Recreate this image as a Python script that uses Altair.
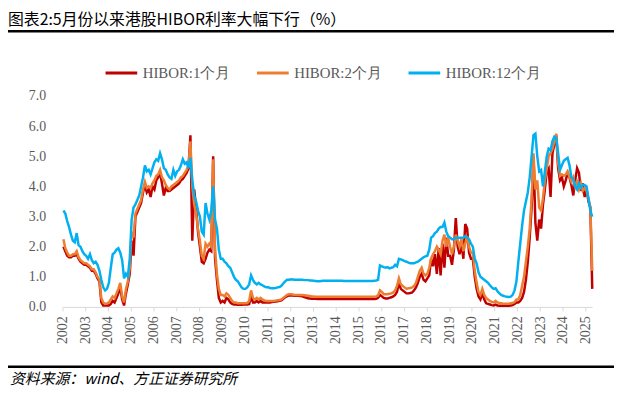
import altair as alt
import pandas as pd

TITLE = "图表2:5月份以来港股HIBOR利率大幅下行（%）"
SOURCE = "资料来源：wind、方正证券研究所"
series_names = ["HIBOR:1个月", "HIBOR:2个月", "HIBOR:12个月"]
series_colors = ["#C00000", "#ED7D31", "#00B0F0"]
start_year = 2002
year_ticks = list(range(2002, 2026))
y_ticks = [0, 1, 2, 3, 4, 5, 6, 7]

# monthly values, Jan 2002 .. Apr 2025
hibor_1m = [
    2.0, 1.85, 1.7, 1.65, 1.65, 1.7, 1.7, 1.75, 1.6, 1.5, 1.45, 1.4,
    1.4, 1.35, 1.3, 1.2, 1.2, 1.1, 0.95, 0.85, 0.15, 0.05, 0.05, 0.05,
    0.05, 0.1, 0.2, 0.15, 0.3, 0.45, 0.65, 0.25, 0.05, 0.45, 0.75, 1.1,
    2.2, 1.7, 3.0, 3.15, 3.3, 3.45, 3.8, 4.05, 3.8, 3.9, 3.65, 4.0,
    3.9, 4.2, 4.3, 4.45, 4.1, 3.7, 3.95, 3.85, 3.85, 3.9, 3.95, 4.0,
    4.05, 4.1, 4.2, 4.25, 4.35, 4.45, 4.6, 5.7, 2.2, 3.9, 3.3, 2.5,
    2.0, 1.5, 1.45, 1.6, 1.8, 1.9, 1.85, 5.0, 1.6, 0.9, 0.3, 0.15,
    0.2, 0.15, 0.3, 0.25, 0.15, 0.1, 0.08, 0.08, 0.07, 0.07, 0.07, 0.08,
    0.08, 0.08, 0.1, 0.35, 0.15, 0.15, 0.2, 0.15, 0.2, 0.15, 0.15, 0.15,
    0.15, 0.15, 0.16, 0.17, 0.18, 0.19, 0.2, 0.22, 0.27, 0.32, 0.36, 0.38,
    0.38, 0.38, 0.37, 0.37, 0.37, 0.36, 0.35, 0.33, 0.31, 0.29, 0.28, 0.27,
    0.27, 0.27, 0.26, 0.26, 0.26, 0.26, 0.26, 0.26, 0.26, 0.26, 0.26, 0.26,
    0.26, 0.26, 0.26, 0.26, 0.26, 0.26, 0.26, 0.26, 0.26, 0.26, 0.26, 0.26,
    0.26, 0.26, 0.26, 0.26, 0.26, 0.26, 0.26, 0.26, 0.26, 0.27, 0.3, 0.4,
    0.35, 0.3, 0.28, 0.28, 0.3, 0.32, 0.35, 0.4, 0.5, 0.8, 0.6, 0.55,
    0.5, 0.45, 0.45, 0.46, 0.48, 0.55, 0.65, 0.8, 1.0, 1.1, 0.9, 0.85,
    0.95, 1.05, 1.6, 1.35, 1.75, 1.1, 1.95, 1.05, 2.1, 1.3, 2.3, 1.7,
    1.7, 1.4, 1.9, 2.95, 2.0, 1.75, 2.1, 1.6, 2.75, 2.6, 1.8, 1.6,
    1.6, 1.0, 0.6, 0.35, 0.25, 0.45, 0.25, 0.12, 0.1, 0.08, 0.06, 0.05,
    0.08, 0.05, 0.04, 0.04, 0.04, 0.04, 0.04, 0.04, 0.05, 0.06, 0.1, 0.15,
    0.15, 0.2, 0.3, 0.5, 0.9, 1.5, 2.3, 3.3, 5.0, 2.8, 2.2, 2.9,
    2.6, 3.4, 3.9, 4.5, 4.6, 3.65, 5.1, 5.4, 5.7, 4.6, 4.2, 4.3,
    4.0, 4.2, 4.45, 4.3, 4.05, 3.7, 4.2, 4.6, 4.45, 3.85, 4.1, 3.65,
    3.9, 3.5, 3.3, 0.6,
]

hibor_2m = [
    2.25, 1.95, 1.8, 1.7, 1.7, 1.75, 1.75, 1.85, 1.65, 1.55, 1.5, 1.45,
    1.45, 1.4, 1.35, 1.25, 1.25, 1.15, 1.0, 0.9, 0.3, 0.15, 0.1, 0.12,
    0.15, 0.25, 0.35, 0.3, 0.45, 0.6, 0.8, 0.35, 0.15, 0.6, 0.85, 1.3,
    2.5, 2.3, 3.1, 3.25, 3.4, 3.55, 3.9, 4.15, 3.95, 4.0, 3.95, 4.1,
    4.2, 4.35, 4.4, 4.55, 4.3, 4.2, 4.05, 3.95, 3.9, 4.0, 4.05, 4.1,
    4.15, 4.2, 4.3, 4.35, 4.45, 4.55, 4.7, 5.5, 4.0, 3.4, 3.1, 2.6,
    2.2, 1.7, 1.6, 2.1, 2.0, 2.1, 2.0, 4.9, 1.9, 1.1, 0.6, 0.4,
    0.4, 0.35, 0.45, 0.4, 0.3, 0.2, 0.15, 0.15, 0.12, 0.12, 0.12, 0.12,
    0.12, 0.13, 0.2, 0.55, 0.3, 0.25, 0.3, 0.25, 0.3, 0.25, 0.22, 0.2,
    0.2, 0.2, 0.2, 0.2, 0.21, 0.22, 0.23, 0.25, 0.3, 0.35, 0.4, 0.42,
    0.42, 0.41, 0.4, 0.4, 0.4, 0.4, 0.4, 0.39, 0.38, 0.37, 0.36, 0.35,
    0.35, 0.34, 0.34, 0.34, 0.34, 0.34, 0.34, 0.34, 0.34, 0.34, 0.34, 0.34,
    0.34, 0.34, 0.34, 0.34, 0.34, 0.34, 0.34, 0.34, 0.34, 0.34, 0.34, 0.34,
    0.34, 0.34, 0.34, 0.34, 0.34, 0.34, 0.34, 0.34, 0.34, 0.35, 0.38, 0.55,
    0.5, 0.42, 0.42, 0.42, 0.44, 0.45, 0.48, 0.55, 0.7, 0.95, 0.75, 0.7,
    0.65, 0.6, 0.62, 0.63, 0.65, 0.7, 0.8, 1.0, 1.2, 1.3, 1.1, 1.05,
    1.1, 1.3, 1.6, 1.75, 1.85, 2.0, 1.9, 1.75, 2.2, 2.4, 2.0, 2.3,
    2.0, 1.75, 2.0, 2.4, 2.2, 2.0, 2.25, 1.85, 2.1, 2.35, 2.0, 1.8,
    1.8, 1.2, 0.8, 0.5, 0.4, 0.6, 0.4, 0.3, 0.25, 0.2, 0.17, 0.15,
    0.2, 0.15, 0.13, 0.12, 0.11, 0.11, 0.11, 0.11, 0.12, 0.13, 0.16, 0.25,
    0.25, 0.4, 0.7, 1.0, 1.5, 2.0, 2.6, 3.6, 5.1, 3.9, 4.2, 3.3,
    3.2, 3.6, 4.2, 4.6, 5.0, 5.1, 5.25, 5.5, 5.75, 4.8, 4.35, 4.4,
    4.35, 4.4, 4.5, 4.3, 4.15, 4.3, 4.0, 4.15, 3.9, 4.1, 3.85, 3.95,
    3.85, 3.6, 3.3, 1.2,
]

hibor_12m = [
    3.2, 3.1, 2.85, 2.65, 2.4, 2.2, 2.15, 2.45, 2.05, 2.0, 1.85, 1.75,
    1.7, 1.6, 1.75, 1.55, 1.45, 1.5, 1.4, 1.2, 0.9, 0.65, 0.55, 0.6,
    0.8, 1.3, 1.75, 1.8, 1.9, 1.95, 1.8, 1.55, 0.95, 1.1, 1.0, 1.6,
    2.9, 3.3, 3.4, 3.55, 3.7, 4.0, 4.3, 4.7, 4.5, 4.55, 4.4, 4.6,
    4.8, 4.9, 4.85, 5.1, 4.9, 4.6, 4.55, 4.4, 4.3, 4.25, 4.55, 4.35,
    4.5, 4.55, 4.7, 4.9, 4.75, 4.8, 4.6, 4.95, 4.2, 3.7, 3.5, 3.2,
    3.0, 2.5, 2.4, 3.45, 3.1, 2.9, 3.2, 4.0, 2.9, 2.6, 1.9, 1.6,
    1.6, 1.5, 1.45, 1.35, 1.3, 1.15, 1.0, 0.9, 0.85, 0.75, 0.65, 0.6,
    0.6, 0.65, 0.75, 1.05, 0.9, 0.8, 0.75, 0.8, 0.75, 0.72, 0.68, 0.65,
    0.65, 0.63, 0.62, 0.62, 0.63, 0.65, 0.66, 0.7, 0.78, 0.85, 0.9, 0.9,
    0.92, 0.91, 0.9, 0.9, 0.9, 0.9, 0.9, 0.89, 0.89, 0.89, 0.88, 0.88,
    0.87, 0.86, 0.85, 0.85, 0.86, 0.87, 0.87, 0.87, 0.87, 0.87, 0.87, 0.87,
    0.87, 0.87, 0.87, 0.87, 0.86, 0.86, 0.86, 0.86, 0.86, 0.86, 0.86, 0.86,
    0.86, 0.86, 0.86, 0.86, 0.86, 0.86, 0.86, 0.86, 0.87, 0.88, 0.9, 1.38,
    1.35, 1.32, 1.3, 1.32, 1.28, 1.3, 1.32, 1.4, 1.35, 1.6, 1.58, 1.55,
    1.52, 1.5, 1.47, 1.45, 1.45, 1.45, 1.48, 1.5, 1.55, 1.6, 1.65, 1.68,
    1.7, 1.9, 2.3, 2.35, 2.45, 2.5, 2.6, 2.65, 2.65, 2.8, 2.5, 2.35,
    2.3, 2.25, 2.25, 2.3, 2.3, 2.3, 2.3, 2.3, 2.35, 2.3, 2.25, 2.1,
    2.0, 1.6, 1.45, 1.15, 1.0, 0.95, 0.9, 0.85, 0.8, 0.72, 0.65, 0.6,
    0.62, 0.52, 0.45, 0.4, 0.37, 0.35, 0.34, 0.33, 0.34, 0.4, 0.55, 0.85,
    1.5, 2.1, 2.7, 3.2, 3.5, 3.8, 4.3, 5.0, 5.7, 5.75, 5.0, 4.5,
    4.55, 4.0, 4.5, 5.0, 5.25, 5.2, 5.5, 5.65, 5.6, 5.1, 4.55, 4.7,
    4.85, 4.9, 4.95, 4.7, 4.3, 4.25, 4.0, 3.9, 4.1, 3.95, 4.05, 4.05,
    4.0, 3.6, 3.2, 3.0,
]

rows = []
for name, vals in zip(series_names, [hibor_1m, hibor_2m, hibor_12m]):
    for i, v in enumerate(vals):
        rows.append({"t": start_year + (i + 0.5) / 12.0, "v": v, "s": name})
df = pd.DataFrame(rows)

LABEL_FONT = "Liberation Serif"
GRAY = "#595959"

lines = alt.Chart(df).mark_line(strokeWidth=2.5).encode(
    x=alt.X(
        "t:Q",
        scale=alt.Scale(domain=[2002, 2025.29], nice=False, zero=False),
        axis=alt.Axis(
            values=year_ticks, format="d", labelAngle=270, grid=False,
            domainColor="#D9D9D9", tickColor="#D9D9D9", tickSize=4,
            labelPadding=5, labelFont=LABEL_FONT, labelFontSize=14,
            labelColor=GRAY, labelFlush=False, labelOverlap=False,
        ),
        title=None,
    ),
    y=alt.Y(
        "v:Q",
        scale=alt.Scale(domain=[0, 7], nice=False),
        axis=alt.Axis(
            values=y_ticks, format=".1f", grid=False, domain=False, ticks=False,
            labelPadding=17, labelFont=LABEL_FONT, labelFontSize=14,
            labelColor=GRAY,
        ),
        title=None,
    ),
    color=alt.Color(
        "s:N",
        scale=alt.Scale(domain=series_names, range=series_colors),
        legend=alt.Legend(
            title=None, orient="none", legendX=42, legendY=-41,
            direction="horizontal", symbolType="stroke", symbolSize=1024,
            symbolStrokeWidth=3, labelFont=LABEL_FONT, labelFontSize=15,
            labelColor=GRAY, columnPadding=20, labelOffset=4, padding=0,
            labelLimit=0,
        ),
    ),
)

title_layer = alt.Chart(pd.DataFrame({"t": [TITLE]})).mark_text(
    align="left", baseline="middle", font="Noto Sans CJK SC", fontSize=16,
    color="black",
).encode(text="t:N", x=alt.value(-55), y=alt.value(-77))

rule_df = pd.DataFrame({"k": [0]})
top_rule = alt.Chart(rule_df).mark_rule(color="black", strokeWidth=2.5).encode(
    x=alt.value(-55), x2=alt.value(557), y=alt.value(-65.5)
)
bottom_rule = alt.Chart(rule_df).mark_rule(color="black", strokeWidth=2.5).encode(
    x=alt.value(-55), x2=alt.value(557), y=alt.value(273.5)
)

footer = alt.Chart(pd.DataFrame({"t": [SOURCE]})).mark_text(
    align="left", baseline="middle", font="Noto Sans CJK SC", fontSize=15,
    fontStyle="italic", color="black",
).encode(text="t:N", x=alt.value(-53), y=alt.value(286))

chart = alt.layer(lines, title_layer, top_rule, bottom_rule, footer).properties(
    width=535,
    height=213,
    padding={"left": 55, "top": 87, "right": 22, "bottom": 84},
    autosize=alt.AutoSizeParams(type="none"),
    background="white",
).configure_view(strokeWidth=0)

chart.save("out.html", embed_options={"renderer": "svg", "actions": False})
